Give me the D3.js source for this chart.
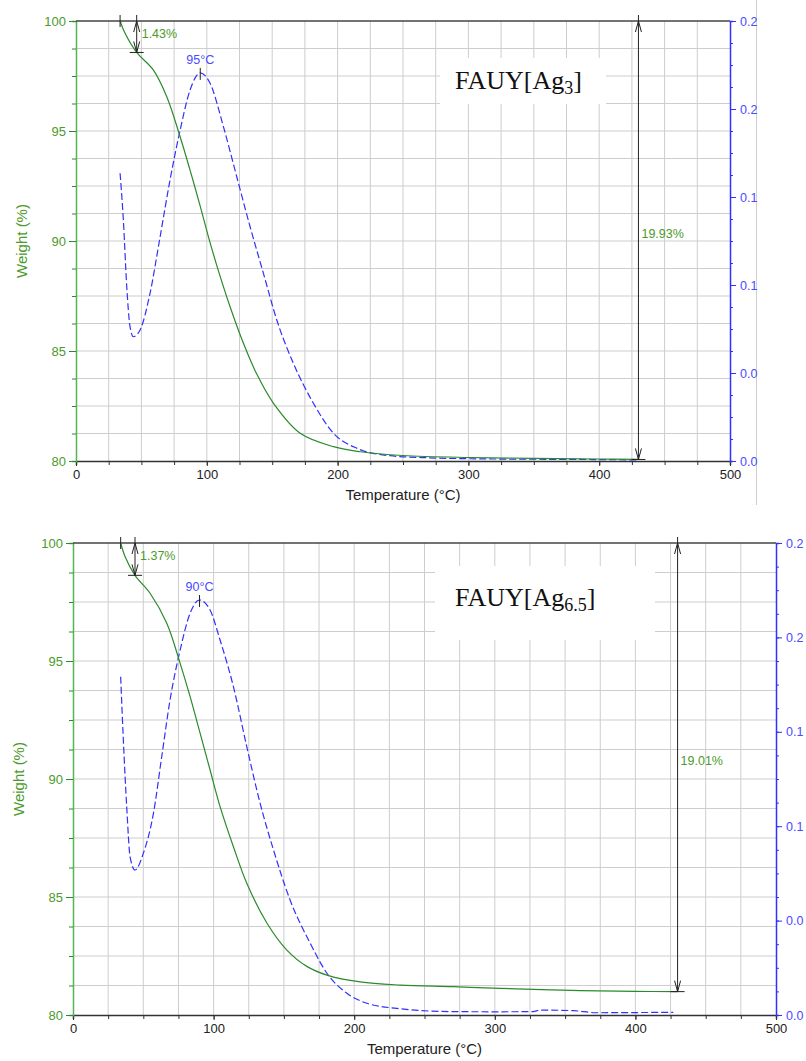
<!DOCTYPE html>
<html>
<head>
<meta charset="utf-8">
<script src="https://cdn.jsdelivr.net/npm/d3@7"></script>
<style>
  body { margin: 0; background: #fff; }
  svg { display: block; }
  text { font-family: "Liberation Sans", Arial, sans-serif; }
</style>
</head>
<body>
<svg id="chart" width="806" height="1061"></svg>
<script>
// ---- data ----
const tempTicks = [0, 100, 200, 300, 400, 500];
const weightTicks = [80, 85, 90, 95, 100];
const dtgTicks = [0, 0.05, 0.10, 0.15, 0.20, 0.25];

// FAUY[Ag3]
const ag3WeightT = [33.7, 37.5, 46.4, 59.2, 69.4, 79.6, 87.2, 94.9, 101.2, 108.9, 117.8, 128, 138.2, 151, 171.4, 196.9, 217.3, 250, 300, 350, 400, 430];
const ag3Weight  = [100, 99.44, 98.57, 97.77, 96.56, 94.74, 93.22, 91.6, 90.2, 88.64, 87.01, 85.35, 83.95, 82.62, 81.26, 80.65, 80.42, 80.25, 80.16, 80.12, 80.09, 80.07];
const ag3DtgT = [33.7, 36.2, 38.8, 41.3, 43.8, 49, 56.6, 64.3, 71.9, 79.6, 87.2, 95, 102.5, 112.7, 122.9, 133.1, 143.3, 153.5, 166.2, 181.5, 196.9, 214.8, 240, 270, 300, 350, 400, 430];
const ag3Dtg  = [0.1635, 0.137, 0.099, 0.0763, 0.0706, 0.0744, 0.0953, 0.1274, 0.1597, 0.188, 0.2108, 0.2205, 0.2146, 0.19, 0.1615, 0.1331, 0.1066, 0.0801, 0.0555, 0.0328, 0.0157, 0.0072, 0.003, 0.0018, 0.0013, 0.001, 0.0008, 0.0006];

// FAUY[Ag6.5]
const ag65WeightT = [33.9, 37, 44.1, 54.8, 66.7, 76.2, 83.3, 90.4, 97.5, 104.6, 114.1, 123.6, 137.9, 152.1, 166.3, 180.6, 204.3, 232.7, 270, 303.9, 360.9, 400, 430];
const ag65Weight  = [100, 99.43, 98.63, 97.87, 96.6, 94.9, 93.49, 91.94, 90.38, 88.83, 87.13, 85.58, 83.9, 82.75, 82.06, 81.69, 81.4, 81.27, 81.2, 81.13, 81.03, 81.0, 80.99];
const ag65DtgT = [33.9, 35.8, 38.2, 40.6, 44.1, 50, 57.2, 63.1, 69, 76.2, 83.3, 90, 97.5, 104.6, 114.1, 123.6, 133.1, 142.6, 154.4, 168.7, 180.6, 194.8, 209, 230.4, 268.3, 300, 327.4, 332, 356, 372, 400, 427];
const ag65Dtg  = [0.1792, 0.1457, 0.1103, 0.0838, 0.0768, 0.0856, 0.1068, 0.1368, 0.1668, 0.1933, 0.2128, 0.2198, 0.2145, 0.1986, 0.1739, 0.1421, 0.1121, 0.0874, 0.0609, 0.038, 0.0221, 0.0115, 0.0062, 0.0035, 0.0018, 0.0017, 0.0018, 0.0026, 0.0023, 0.0012, 0.0013, 0.0014];

const GREEN = "#2b8a2b", GREEN_TXT = "#4c9a2a", BLUE = "#3030ff", BLUE_TXT = "#4a4aff";
const SANS = '"Liberation Sans", Arial, sans-serif';

const svg = d3.select("#chart");

function arrowHead(g, x, y, dir) {
  // open V head; dir -1 = pointing up, 1 = pointing down
  g.append("path")
    .attr("d", `M${x - 3},${y - dir * 11} L${x},${y} L${x + 3},${y - dir * 11}`)
    .attr("fill", "none").attr("stroke", "#222").attr("stroke-width", 1);
}

function drawPanel(p) {
  const g = svg.append("g");
  const x = d3.scaleLinear().domain([0, 500]).range([p.left, p.right]);
  const yW = d3.scaleLinear().domain([80, 100]).range([p.bottom, p.top]);
  const yD = d3.scaleLinear().domain([0, 0.25]).range([p.bottom, p.top]);

  // grid
  const grid = g.append("g").attr("stroke", "#cdcdcd").attr("stroke-width", 1);
  d3.range(25, 500, 25).forEach(t => {
    grid.append("line").attr("x1", x(t)).attr("x2", x(t)).attr("y1", p.top).attr("y2", p.bottom);
  });
  d3.range(81.25, 100, 1.25).forEach(w => {
    grid.append("line").attr("x1", p.left).attr("x2", p.right).attr("y1", yW(w)).attr("y2", yW(w));
  });

  // white box behind the sample name
  g.append("rect")
    .attr("x", p.box[0]).attr("y", p.box[1]).attr("width", p.box[2]).attr("height", p.box[3])
    .attr("fill", "#fff");
  g.append("text")
    .attr("x", p.titleX).attr("y", p.titleY)
    .style("font-family", '"Liberation Serif", "Times New Roman", serif')
    .style("font-size", "26px").attr("fill", "#111")
    .call(t => {
      t.append("tspan").text(p.title);
      t.append("tspan").text(p.sub).style("font-size", "18px").attr("dy", 5);
      t.append("tspan").text("]").attr("dy", -5);
    });

  // axes
  const xAxis = g.append("g").attr("transform", `translate(0,${p.bottom})`)
    .call(d3.axisBottom(x).tickValues(d3.range(0, 501, 25)).tickSize(4).tickFormat(""));
  xAxis.select(".domain").attr("stroke", "#333").attr("stroke-width", 1.5);
  xAxis.selectAll(".tick line").attr("stroke", "#333");
  g.append("g").attr("transform", `translate(0,${p.bottom})`)
    .call(d3.axisBottom(x).tickValues(tempTicks).tickSize(5).tickPadding(4))
    .call(a => a.select(".domain").remove())
    .call(a => a.selectAll("line").attr("stroke", "#333"))
    .call(a => a.selectAll("text").attr("fill", "#222").style("font-size", "13px")
      .style("font-family", SANS));

  const yl = g.append("g").attr("transform", `translate(${p.left},0)`)
    .call(d3.axisLeft(yW).tickValues(d3.range(80, 100.01, 1.25)).tickSize(4).tickFormat(""));
  yl.select(".domain").attr("stroke", "#55b555").attr("stroke-width", 1.5);
  yl.selectAll("line").attr("stroke", GREEN);
  g.append("g").attr("transform", `translate(${p.left},0)`)
    .call(d3.axisLeft(yW).tickValues(weightTicks).tickSize(7).tickPadding(3))
    .call(a => a.select(".domain").remove())
    .call(a => a.selectAll("line").attr("stroke", GREEN))
    .call(a => a.selectAll("text").attr("fill", GREEN_TXT).style("font-size", "13px")
      .style("font-family", SANS));

  // top frame line
  g.append("line").attr("x1", p.left).attr("x2", p.right).attr("y1", p.top).attr("y2", p.top)
    .attr("stroke", "#444").attr("stroke-width", 1.5);

  const yr = g.append("g").attr("transform", `translate(${p.right},0)`)
    .call(d3.axisRight(yD).tickValues(d3.range(0, 0.2501, 0.0125)).tickSize(3).tickFormat(""));
  yr.select(".domain").attr("stroke", BLUE).attr("stroke-width", 1.5);
  yr.selectAll("line").attr("stroke", BLUE);
  // the source images are cropped right after the first digits of these labels
  g.append("g").attr("transform", `translate(${p.right},0)`)
    .call(d3.axisRight(yD).tickValues(dtgTicks).tickSize(6).tickPadding(4)
      .tickFormat(d => d3.format(".2f")(d).slice(0, 3)))
    .call(a => a.select(".domain").remove())
    .call(a => a.selectAll("line").attr("stroke", BLUE))
    .call(a => a.selectAll("text").attr("fill", BLUE_TXT).style("font-size", "12.5px")
      .style("font-family", SANS));

  // axis titles
  g.append("text").attr("x", (p.left + p.right) / 2).attr("y", p.bottom + 39)
    .attr("text-anchor", "middle").style("font-size", "15px").attr("fill", "#222")
    .text("Temperature (°C)");
  g.append("text")
    .attr("transform", `translate(${p.left - 49},${(p.top + p.bottom) / 2}) rotate(-90)`)
    .attr("text-anchor", "middle").style("font-size", "15px").attr("fill", GREEN_TXT)
    .text("Weight (%)");

  // curves
  const wData = p.weightT.map((t, i) => [t, p.weight[i]]);
  const dData = p.dtgT.map((t, i) => [t, p.dtg[i]]);
  g.append("path").datum(dData)
    .attr("d", d3.line().x(d => x(d[0])).y(d => yD(d[1])).curve(d3.curveMonotoneX))
    .attr("fill", "none").attr("stroke", BLUE).attr("stroke-width", 1.2)
    .attr("stroke-dasharray", "7,3");
  g.append("path").datum(wData)
    .attr("d", d3.line().x(d => x(d[0])).y(d => yW(d[1])).curve(d3.curveCatmullRom))
    .attr("fill", "none").attr("stroke", GREEN).attr("stroke-width", 1.2);

  // annotations
  const ann = g.append("g").attr("stroke", "#222").attr("stroke-width", 1);
  const t0 = p.weightT[0];
  ann.append("line").attr("x1", x(t0)).attr("x2", x(t0)).attr("y1", p.top - 6).attr("y2", p.top + 6);

  const stepW = p.weight[p.weightT.indexOf(p.stepT)];
  const sx = x(p.stepT);
  ann.append("line").attr("x1", sx).attr("x2", sx).attr("y1", p.top - 6).attr("y2", yW(stepW));
  ann.append("line").attr("x1", sx - 7).attr("x2", sx + 7).attr("y1", yW(stepW)).attr("y2", yW(stepW));
  arrowHead(ann, sx, p.top, -1);
  arrowHead(ann, sx, yW(stepW), 1);
  g.append("text").attr("x", sx + 5).attr("y", p.top + 17)
    .style("font-size", "12.5px").attr("fill", GREEN_TXT)
    .text(d3.format(".2f")(100 - stepW) + "%");

  const endT = p.weightT[p.weightT.length - 1];
  const endW = p.weight[p.weight.length - 1];
  const ex = x(endT);
  ann.append("line").attr("x1", ex).attr("x2", ex).attr("y1", p.top - 6).attr("y2", yW(endW));
  ann.append("line").attr("x1", ex - 7).attr("x2", ex + 7).attr("y1", yW(endW)).attr("y2", yW(endW));
  arrowHead(ann, ex, p.top, -1);
  arrowHead(ann, ex, yW(endW), 1);
  g.append("text").attr("x", ex + 3).attr("y", (p.top + yW(endW)) / 2 - 2)
    .style("font-size", "12.5px").attr("fill", GREEN_TXT)
    .text(d3.format(".2f")(100 - endW) + "%");

  const pi = d3.maxIndex(p.dtg);
  const px = x(p.dtgT[pi]), py = yD(p.dtg[pi]);
  ann.append("line").attr("x1", px).attr("x2", px).attr("y1", py - 5).attr("y2", py + 7);
  g.append("text").attr("x", px).attr("y", py - 9).attr("text-anchor", "middle")
    .style("font-size", "12.5px").attr("fill", BLUE_TXT)
    .text(d3.format("d")(p.dtgT[pi]) + "°C");
}

// image border of the first figure
svg.append("line").attr("x1", 756.5).attr("x2", 756.5).attr("y1", 0).attr("y2", 505)
  .attr("stroke", "#cfcfcf").attr("stroke-width", 1);

drawPanel({
  left: 76, right: 730, top: 21, bottom: 461,
  weightT: ag3WeightT, weight: ag3Weight, dtgT: ag3DtgT, dtg: ag3Dtg, stepT: 46.4,
  title: "FAUY[Ag", sub: "3", titleX: 455, titleY: 89, box: [440, 58, 166, 46]
});

drawPanel({
  left: 73, right: 776, top: 543, bottom: 1015,
  weightT: ag65WeightT, weight: ag65Weight, dtgT: ag65DtgT, dtg: ag65Dtg, stepT: 44.1,
  title: "FAUY[Ag", sub: "6.5", titleX: 455, titleY: 606, box: [435, 566, 220, 74]
});
</script>
</body>
</html>
